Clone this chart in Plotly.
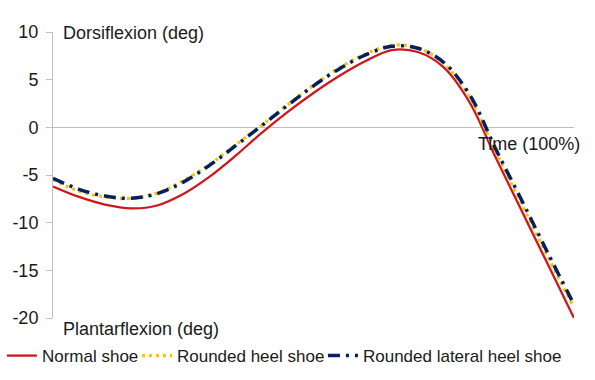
import plotly.graph_objects as go

time_pct = [0, 5, 10, 15, 20, 25, 30, 35, 40, 45, 50, 55, 60, 65, 70, 75, 80, 85, 90, 95, 100]
normal_shoe = [-6.2, -7.3, -8.1, -8.5, -8.2, -7.0, -5.2, -3.0, -0.6, 1.6, 3.6, 5.4, 6.95, 8.1, 7.9, 6.3, 2.6, -3.2, -8.8, -14.4, -20.0]
rounded_heel = [-5.5, -6.7, -7.3, -7.45, -6.9, -5.6, -3.9, -1.85, 0.2, 2.35, 4.4, 6.25, 7.7, 8.6, 8.35, 6.7, 3.1, -2.6, -8.1, -13.6, -18.9]
rounded_lateral = [-5.35, -6.5, -7.2, -7.45, -6.95, -5.75, -4.0, -1.95, 0.15, 2.3, 4.35, 6.15, 7.6, 8.5, 8.3, 6.8, 3.4, -2.3, -7.7, -13.2, -18.6]

series_names = ["Normal shoe", "Rounded heel shoe", "Rounded lateral heel shoe"]
y_ticks = [-20, -15, -10, -5, 0, 5, 10]
y_tick_labels = ["-20", "-15", "-10", "-5", "0", "5", "10"]

FONT = "Liberation Sans, Arial, sans-serif"
TXT = "#1a1a1a"

fig = go.Figure()
fig.add_trace(go.Scatter(x=time_pct, y=normal_shoe, mode="lines", name=series_names[0],
                         legendwidth=90,
                         line=dict(color="#d0161d", width=2.3, shape="spline", smoothing=1.0)))
fig.add_trace(go.Scatter(x=time_pct, y=rounded_heel, mode="lines", name=series_names[1],
                         legendwidth=141,
                         line=dict(color="#ffc000", width=3.2, dash="3px,4px", shape="spline", smoothing=1.0)))
fig.add_trace(go.Scatter(x=time_pct, y=rounded_lateral, mode="lines", name=series_names[2],
                         legendwidth=200,
                         line=dict(color="#002060", width=3.5, dash="12px,6px,3px,6px", shape="spline", smoothing=1.0)))

fig.update_layout(
    width=595, height=380,
    margin=dict(l=53, r=21, t=32, b=62, autoexpand=False),
    paper_bgcolor="white", plot_bgcolor="white",
    font=dict(family=FONT, size=18, color=TXT),
    showlegend=True,
    legend=dict(orientation="h", xref="paper", x=-0.098, xanchor="left",
                yref="paper", y=-0.133, yanchor="middle",
                font=dict(size=17, color=TXT), itemwidth=30,
                bgcolor="rgba(0,0,0,0)", borderwidth=0),
    xaxis=dict(range=[0, 100], showline=False, showticklabels=False, ticks="",
               showgrid=False, zeroline=False, automargin=False),
    yaxis=dict(range=[-20, 10], tickvals=y_ticks, ticktext=y_tick_labels,
               ticks="outside", ticklen=6,
               tickcolor="#bfbfbf", showline=True, linecolor="#bfbfbf", linewidth=1,
               showgrid=False, zeroline=True, zerolinecolor="#bfbfbf", zerolinewidth=1,
               ticklabelstandoff=4, automargin=False,
               tickfont=dict(size=18, color=TXT)),
    annotations=[
        dict(text="Dorsiflexion (deg)", x=1.5, y=10, xref="x", yref="y", xanchor="left",
             yanchor="middle", yshift=-1, showarrow=False, font=dict(size=18, color=TXT)),
        dict(text="Plantarflexion (deg)", x=1.5, y=-20, xref="x", yref="y", xanchor="left",
             yanchor="top", yshift=1, showarrow=False, font=dict(size=18, color=TXT)),
        dict(text="Time (100%)", x=81.1, y=-1.7, xref="x", yref="y", xanchor="left",
             yanchor="middle", showarrow=False, font=dict(size=18, color=TXT)),
    ],
)

fig.write_html("out.html", config={"displayModeBar": False},
               post_script="document.body.style.margin='0';")
